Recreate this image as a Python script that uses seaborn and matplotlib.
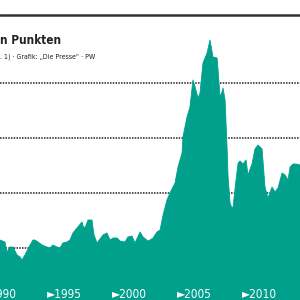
import matplotlib
matplotlib.use("Agg")
import matplotlib.pyplot as plt
import seaborn as sns
import pandas as pd

years = [1991.31, 1991.69, 1991.85, 1992.08, 1992.31, 1992.62, 1992.85, 1993.0, 1993.23, 1993.62,
         1993.85, 1994.0, 1994.23, 1994.54, 1994.92, 1995.15, 1995.38, 1995.69, 1995.92, 1996.15,
         1996.46, 1996.69, 1996.92, 1997.23, 1997.62, 1997.69, 1997.85, 1998.08, 1998.38, 1998.54,
         1998.77, 1999.23, 1999.54, 1999.77, 2000.0, 2000.31, 2000.54, 2000.92, 2001.15, 2001.46,
         2001.69, 2002.08, 2002.31, 2002.69, 2002.85, 2003.08, 2003.38, 2003.62, 2003.85, 2004.15,
         2004.38, 2004.77, 2005.0, 2005.31, 2005.38, 2005.69, 2005.92, 2006.15, 2006.31, 2006.54,
         2006.69, 2006.92, 2007.23, 2007.46, 2007.69, 2008.0, 2008.08, 2008.23, 2008.38, 2008.46,
         2008.62, 2008.77, 2008.85, 2009.0, 2009.15, 2009.23, 2009.46, 2009.62, 2009.77, 2010.0,
         2010.23, 2010.38, 2010.69, 2010.92, 2011.15, 2011.46, 2011.54, 2011.69, 2011.85, 2011.92,
         2012.23, 2012.46, 2012.69, 2013.0, 2013.23, 2013.46, 2013.62, 2013.85, 2014.08, 2014.38]
values = [114.5, 110.9, 92.7, 101.8, 101.8, 87.3, 83.6, 78.2, 87.3, 105.5,
          114.5, 114.5, 110.9, 105.5, 101.8, 100.0, 105.5, 101.8, 100.0, 109.1,
          110.9, 114.5, 127.3, 136.4, 147.3, 140.0, 136.4, 150.9, 150.9, 123.6,
          109.1, 123.6, 127.3, 114.5, 118.2, 118.2, 112.7, 110.9, 120.0, 121.8,
          109.1, 129.1, 120.0, 112.7, 114.5, 118.2, 129.1, 132.7, 160.0, 187.3,
          200.0, 218.2, 247.3, 272.7, 301.8, 338.2, 356.4, 405.5, 392.7, 372.7,
          381.8, 436.4, 454.5, 478.2, 447.3, 445.5, 423.6, 374.5, 383.6, 390.9,
          369.1, 283.6, 229.1, 181.8, 172.7, 174.5, 223.6, 254.5, 258.2, 252.7,
          260.0, 232.7, 252.7, 280.0, 287.3, 280.0, 256.4, 210.9, 196.4, 190.9,
          210.9, 201.8, 209.1, 236.4, 232.7, 223.6, 247.3, 252.7, 252.7, 250.9]
grid_values = [100, 200, 300, 400]
tick_years = [1990, 1995, 2000, 2005, 2010]
tick_labels = ["►1990", "►1995", "►2000", "►2005", "►2010"]
title = "n Punkten"
subtitle = ". 1) · Grafik: „Die Presse“ · PW"

df = pd.DataFrame({"year": years, "value": values})
teal = "#00A08C"
narrow = ["Liberation Sans Narrow", "DejaVu Sans"]

sns.set_style("white")
fig = plt.figure(figsize=(3, 3), dpi=100)
ax = fig.add_axes([0, 0, 1, 1])
ax.set_xlim(1991.31, 2014.38)
ax.set_ylim(5.45, 550.9)

for g in grid_values:
    ax.axhline(g, color="#222222", lw=1.1, ls=(0, (1, 0.8)), zorder=1)

sns.lineplot(data=df, x="year", y="value", ax=ax, color=teal, lw=0.6, zorder=2)
ax.fill_between(df["year"], df["value"], 0, color=teal, lw=0, zorder=2)

for yr, lab in zip(tick_years, tick_labels):
    ax.text(yr - 0.1, 0.024, lab, transform=ax.get_xaxis_transform(), color="white",
            fontsize=8.5, family=narrow, fontstretch="condensed",
            ha="left", va="center_baseline", zorder=3)

ax.set_xlabel("")
ax.set_ylabel("")
ax.set_xticks([])
ax.set_yticks([])
for s in ax.spines.values():
    s.set_visible(False)

fig.add_artist(plt.Line2D([0, 1], [1 - 15 / 300, 1 - 15 / 300], color="#333333", lw=1.8,
                          transform=fig.transFigure))
fig.text(0.0, 1 - 40 / 300, title, fontsize=8.5, family=narrow, fontstretch="condensed",
         color="#222222", ha="left", va="center", weight="semibold")
fig.text(0.0, 1 - 57 / 300, subtitle, fontsize=5, family=narrow, fontstretch="condensed",
         color="#222222", ha="left", va="center")

fig.savefig("out.png", dpi=100)
